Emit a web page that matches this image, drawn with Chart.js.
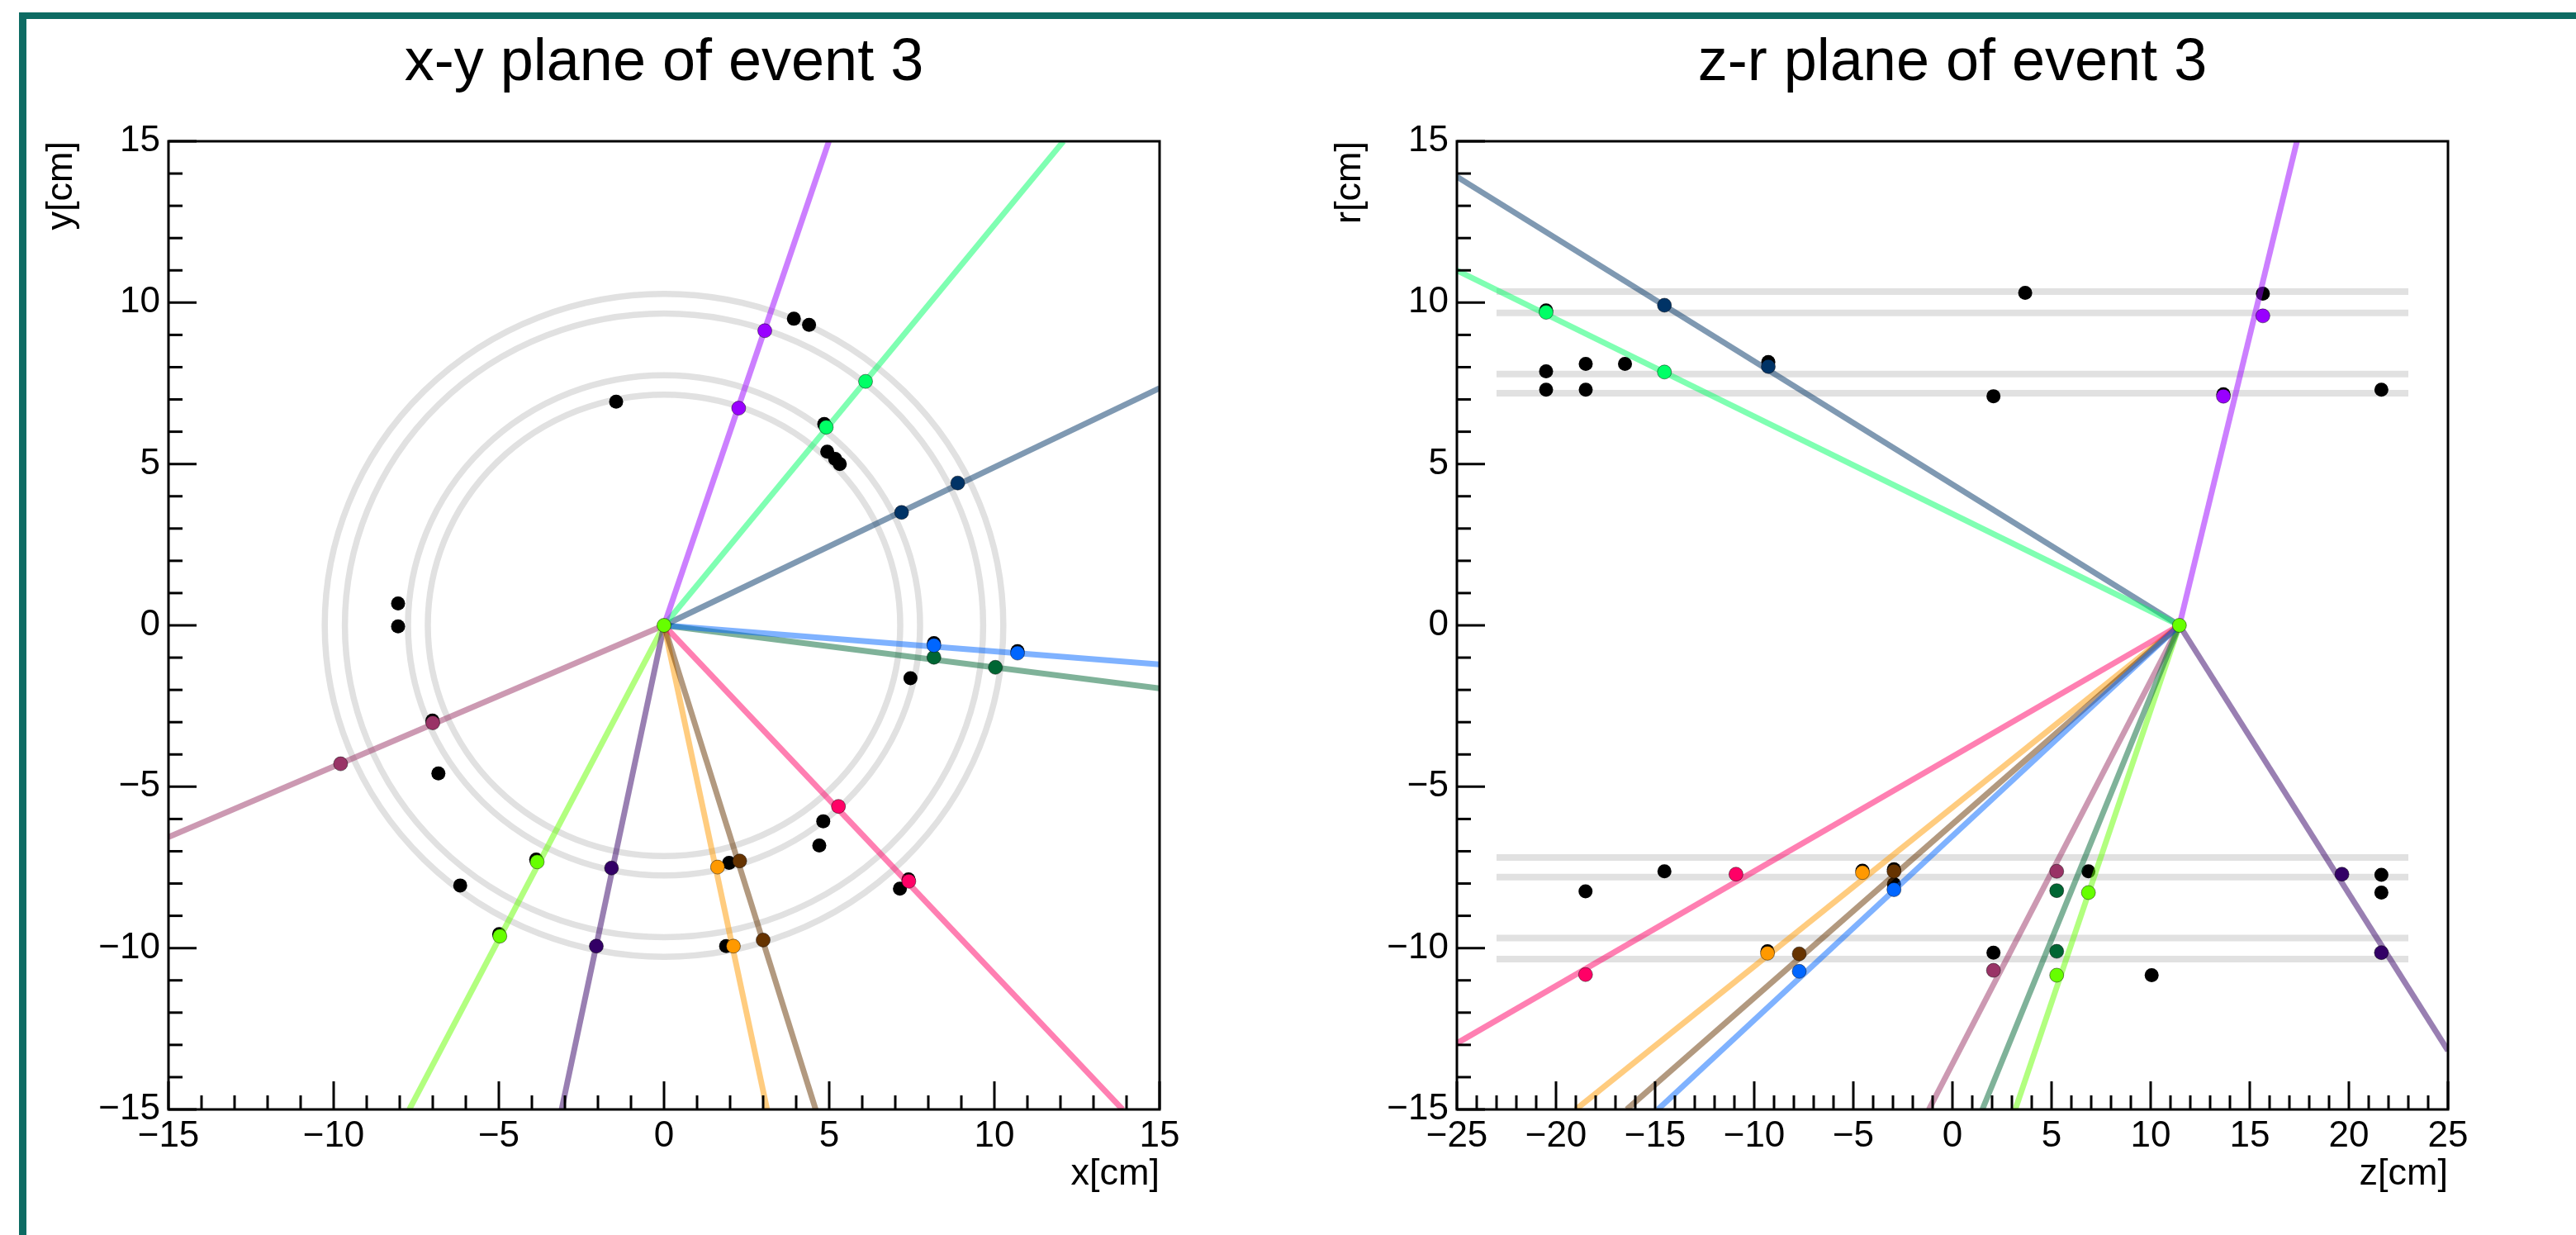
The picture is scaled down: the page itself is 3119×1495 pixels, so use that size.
<!DOCTYPE html>
<html>
<head>
<meta charset="utf-8">
<script src="https://cdn.jsdelivr.net/npm/chart.js@4.4.1/dist/chart.umd.min.js"></script>
<style>
  html, body { margin: 0; padding: 0; background: #fff; }
  body { width: 3119px; height: 1495px; position: relative; overflow: hidden;
         font-family: "Liberation Sans", Arial, Helvetica, sans-serif; }
  .frame { position: absolute; left: 23px; top: 15px; right: -30px; bottom: -30px;
           border-left: 9px solid #0d6b63; border-top: 8px solid #0d6b63; }
  .title { position: absolute; top: 36px; width: 1200px; text-align: center;
           font-size: 72px; line-height: 72px; color: #000; }
  .panel { position: absolute; top: 0; height: 1495px; }
</style>
</head>
<body>
<div class="frame"></div>
<div class="title" style="left:204px">x-y plane of event 3</div>
<div class="title" style="left:1764px">z-r plane of event 3</div>
<div class="panel" style="left:0;width:1560px"><canvas id="cXY"></canvas></div>
<div class="panel" style="left:1560px;width:1559px"><canvas id="cZR"></canvas></div>

<script>
// Event display, event 3 — hits (cm) and fitted tracks, x-y and z-r views.
// Track colours (hits); lines use the same colour at 50% alpha.
const TRACK_COLORS = ["#9900ff", "#00ff66", "#003366", "#0066ff", "#006633",
                      "#ff0066", "#663300", "#ff9900", "#330066", "#66ff00", "#993366"];
const VERTEX_COLOR = "#66ff00";

// ---------- x-y plane ----------
const XY_VERTEX = [0, 0];
const XY_HIT_X = [[3.05, 2.26], [6.10, 4.91], [8.89, 7.19], [8.17, 10.70], [8.17, 10.03],
                  [5.28, 7.41], [2.29, 3.00], [1.62, 2.10], [-1.59, -2.05], [-3.84, -4.97], [-7.00, -9.79]];
const XY_HIT_Y = [[9.13, 6.73], [7.56, 6.14], [4.41, 3.50], [-0.62, -0.86], [-0.99, -1.30],
                  [-5.61, -7.93], [-7.30, -9.75], [-7.49, -9.94], [-7.52, -9.94], [-7.33, -9.63], [-3.02, -4.29]];
// where each track leaves the frame
const XY_END_X = [4.99, 12.09, 15, 15, 15, 13.88, 4.59, 3.12, -3.10, -7.71, -15];
const XY_END_Y = [15, 15, 7.35, -1.21, -1.95, -15, -15, -15, -15, -15, -6.56];
// unassigned hits
const XY_BLACK_X = [3.93, 4.39, -1.45, 4.85, 4.94, 5.18, 5.32, -8.05, -8.05, 7.46, -6.83, -6.17,
                    4.82, 4.70, 7.14, 1.97, 1.88, -3.87, -4.99, -7.01, 7.40, 8.17, 10.70];
const XY_BLACK_Y = [9.50, 9.31, 6.93, 6.24, 5.38, 5.16, 5.00, 0.68, -0.03, -1.64, -4.59, -8.06,
                    -6.07, -6.82, -8.16, -7.36, -9.94, -7.26, -9.57, -2.95, -7.87, -0.55, -0.80];
// detector layers (circle radii)
const XY_RINGS = [7.15, 7.75, 9.66, 10.27];

// ---------- z-r plane ----------
const ZR_VERTEX = [11.45, 0];
const ZR_HIT_Z = [[15.66, 13.67], [-20.50, -14.53], [-14.53, -9.29], [-2.95, -7.73], [5.26, 5.26],
                  [-10.92, -18.51], [-2.95, -7.73], [-4.54, -9.33], [19.65, 21.64], [6.86, 5.26], [5.26, 2.07]];
const ZR_HIT_R = [[9.59, 7.10], [9.70, 7.85], [9.92, 8.02], [-8.19, -10.72], [-8.22, -10.10],
                  [-7.71, -10.82], [-7.62, -10.18], [-7.66, -10.16], [-7.71, -10.14], [-8.28, -10.84], [-7.62, -10.69]];
const ZR_END_Z = [17.38, -25, -25, -14.86, 1.51, -25, -16.43, -19.00, 25, 3.17, -1.19];
const ZR_END_R = [15, 11.00, 13.90, -15, -15, -12.95, -15, -15, -13.18, -15, -15];
const ZR_BLACK_Z = [3.67, 15.66, 2.07, 21.64, -20.50, -20.50, -18.50, -18.50, -16.52, -9.29, -20.50, 13.67,
                    -18.51, -14.53, 2.07, 6.86, 10.05, 21.64, 21.64, -2.95, -4.54, -9.33, -2.95];
const ZR_BLACK_R = [10.30, 10.28, 7.10, 7.30, 7.87, 7.30, 8.10, 7.30, 8.10, 8.16, 9.76, 7.16,
                    -8.24, -7.62, -10.14, -7.62, -10.84, -7.73, -8.28, -8.02, -7.60, -10.10, -7.56];
// detector layers (signed r), drawn over z range below
const ZR_BANDS = [10.34, 9.68, 7.79, 7.19, -7.19, -7.80, -9.69, -10.34];
const ZR_BAND_Z = [-23, 23];

const LAYER_COLOR = "#e1e1e1";
const FONT = "'Liberation Sans', Arial, Helvetica, sans-serif";

// ---------- helpers ----------
const fade = (hex) => {
  const n = parseInt(hex.slice(1), 16);
  return `rgba(${n >> 16},${(n >> 8) & 255},${n & 255},0.5)`;
};
const pts = (xs, ys) => xs.map((x, i) => ({ x, y: ys[i] }));
const minus = (v) => String(v).replace("-", "\u2212");

// rings under the data, inward ROOT-style ticks and the frame on top
const rootFrame = {
  id: "rootFrame",
  beforeDatasetsDraw(chart, args, opts) {
    if (!opts.rings) return;
    const { ctx, chartArea: a, scales: { x, y } } = chart;
    const cx = x.getPixelForValue(0), cy = y.getPixelForValue(0);
    ctx.save();
    ctx.beginPath(); ctx.rect(a.left, a.top, a.width, a.height); ctx.clip();
    ctx.strokeStyle = LAYER_COLOR; ctx.lineWidth = 7.5;
    opts.rings.forEach((r) => {
      ctx.beginPath();
      ctx.ellipse(cx, cy, Math.abs(x.getPixelForValue(r) - cx), Math.abs(y.getPixelForValue(r) - cy), 0, 0, 2 * Math.PI);
      ctx.stroke();
    });
    ctx.restore();
  },
  afterDraw(chart) {
    const { ctx, chartArea: a, scales: { x, y } } = chart;
    ctx.save();
    ctx.strokeStyle = "#000"; ctx.lineWidth = 3;
    for (let v = Math.ceil(x.min); v <= x.max; v++) {
      const p = x.getPixelForValue(v), len = v % 5 === 0 ? 34 : 17;
      ctx.beginPath(); ctx.moveTo(p, a.bottom); ctx.lineTo(p, a.bottom - len); ctx.stroke();
    }
    for (let v = Math.ceil(y.min); v <= y.max; v++) {
      const p = y.getPixelForValue(v), len = v % 5 === 0 ? 34 : 17;
      ctx.beginPath(); ctx.moveTo(a.left, p); ctx.lineTo(a.left + len, p); ctx.stroke();
    }
    ctx.strokeRect(a.left, a.top, a.width, a.height);
    ctx.restore();
  },
};

function buildSets(v, hx, hy, ex, ey, bx, by, bands) {
  const sets = [];
  (bands || []).forEach((r) => sets.push({
    data: pts(ZR_BAND_Z, [r, r]), showLine: true, borderColor: LAYER_COLOR, borderWidth: 8,
    borderCapStyle: "butt", pointRadius: 0, order: 5 }));
  sets.push({ data: pts(bx, by), backgroundColor: "#000", borderWidth: 0, pointRadius: 8.5, order: 4 });
  TRACK_COLORS.forEach((c, i) => {
    sets.push({ data: [{ x: v[0], y: v[1] }, { x: ex[i], y: ey[i] }], showLine: true, clip: 0,
      borderColor: fade(c), borderWidth: 7, pointRadius: 0, order: 3 });
    sets.push({ data: pts(hx[i], hy[i]), backgroundColor: c, borderColor: "rgba(0,0,0,0.45)",
      borderWidth: 1, pointRadius: 8.5, order: 2 });
  });
  sets.push({ data: [{ x: v[0], y: v[1] }], backgroundColor: VERTEX_COLOR, borderColor: "rgba(0,0,0,0.45)",
    borderWidth: 1, pointRadius: 8.5, order: 1 });
  return sets;
}

function axis(min, max, title, isX) {
  return {
    type: "linear", min, max,
    grid: { display: false, drawTicks: false },
    border: { display: false },
    ticks: { stepSize: 5, color: "#000", padding: isX ? 6 : 10, autoSkip: false, maxRotation: 0,
             font: { family: FONT, size: 44, lineHeight: 1.2 }, callback: minus },
    title: { display: true, text: title, align: "end", color: "#000",
             font: { family: FONT, size: 45, lineHeight: 1.2 },
             padding: isX ? { top: 0, bottom: 46 } : { top: 48, bottom: 0 } },
    afterFit: (s) => { if (isX) s.height = 152; else s.width = 204; },
  };
}

function mkPlot(id, xr, xTitle, yTitle, sets, rings, padRight) {
  new Chart(document.getElementById(id), {
    type: "scatter",
    data: { datasets: sets },
    options: {
      responsive: true, maintainAspectRatio: false, animation: false, events: [],
      layout: { padding: { top: 171, right: padRight, bottom: 0, left: 0 } },
      plugins: { legend: { display: false }, tooltip: { enabled: false }, rootFrame: { rings } },
      scales: { x: axis(xr[0], xr[1], xTitle, true), y: axis(-15, 15, yTitle, false) },
    },
    plugins: [rootFrame],
  });
}

mkPlot("cXY", [-15, 15], "x[cm]", "y[cm]",
  buildSets(XY_VERTEX, XY_HIT_X, XY_HIT_Y, XY_END_X, XY_END_Y, XY_BLACK_X, XY_BLACK_Y, null), XY_RINGS, 156);
mkPlot("cZR", [-25, 25], "z[cm]", "r[cm]",
  buildSets(ZR_VERTEX, ZR_HIT_Z, ZR_HIT_R, ZR_END_Z, ZR_END_R, ZR_BLACK_Z, ZR_BLACK_R, ZR_BANDS), null, 155);
</script>
</body>
</html>
